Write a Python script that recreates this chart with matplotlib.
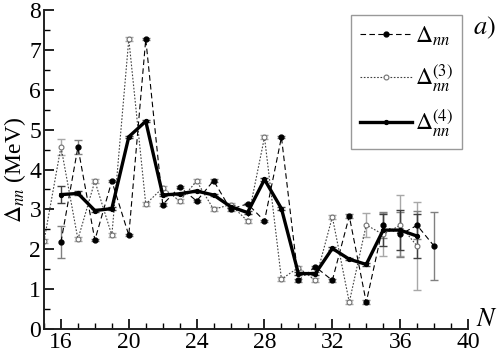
import matplotlib
matplotlib.use("Agg")
import matplotlib.pyplot as plt
from matplotlib.ticker import MultipleLocator

plt.rcParams['font.family'] = ['Liberation Serif', 'DejaVu Serif']
plt.rcParams['mathtext.fontset'] = 'stix'

# Δnn (dashed, filled circles)
N_nn = [16, 17, 18, 19, 20, 21, 22, 23, 24, 25, 26, 27, 28, 29, 30, 31, 32, 33, 34, 35, 36, 37, 38]
d_nn = [2.18, 4.56, 2.23, 3.71, 2.35, 7.27, 3.12, 3.56, 3.21, 3.72, 3.00, 3.14, 2.71, 4.81,
        1.22, 1.56, 1.22, 2.83, 0.67, 2.60, 2.37, 2.60, 2.08]
e_nn = [0.40, 0.18, 0.03, 0.03, 0.03, 0.03, 0.03, 0.03, 0.03, 0.03, 0.03, 0.03, 0.03, 0.03,
        0.03, 0.03, 0.03, 0.05, 0.05, 0.33, 0.57, 0.35, 0.85]

# Δnn(3) (dotted, open circles)
N_3 = [15, 16, 17, 18, 19, 20, 21, 22, 23, 24, 25, 26, 27, 28, 29, 30, 31, 32, 33, 34, 35, 36, 37]
d_3 = [2.20, 4.57, 2.25, 3.71, 2.35, 7.27, 3.13, 3.54, 3.21, 3.71, 3.00, 3.12, 2.71, 4.81,
       1.25, 1.54, 1.22, 2.81, 0.67, 2.61, 2.37, 2.60, 2.08]
e_3 = [0.05, 0.20, 0.05, 0.05, 0.05, 0.05, 0.05, 0.05, 0.05, 0.05, 0.05, 0.05, 0.05, 0.05,
       0.05, 0.05, 0.05, 0.05, 0.05, 0.30, 0.55, 0.76, 1.10]

# Δnn(4) (thick solid)
N_4 = [16, 17, 18, 19, 20, 21, 22, 23, 24, 25, 26, 27, 28, 29, 30, 31, 32, 33, 34, 35, 36, 37]
d_4 = [3.37, 3.40, 2.97, 3.02, 4.82, 5.21, 3.36, 3.39, 3.46, 3.36, 3.07, 2.92, 3.75, 3.02,
       1.39, 1.39, 2.02, 1.75, 1.62, 2.48, 2.48, 2.33]
e_4 = [0.22, 0.05, 0.03, 0.03, 0.03, 0.03, 0.03, 0.03, 0.03, 0.03, 0.03, 0.03, 0.03, 0.03,
       0.03, 0.03, 0.03, 0.03, 0.03, 0.40, 0.50, 0.55]

labels = [r'$\Delta_{nn}$', r'$\Delta_{nn}^{(3)}$', r'$\Delta_{nn}^{(4)}$']

fig = plt.figure(figsize=(5.03, 3.53), dpi=100)
ax = fig.add_axes([44/503, 1-329/353, 424/503, 319/353])

ax.errorbar(N_3, d_3, yerr=e_3, fmt='none', ecolor='#a8a8a8', elinewidth=1.0, capsize=3, zorder=1)
ax.errorbar(N_nn, d_nn, yerr=e_nn, fmt='none', ecolor='#808080', elinewidth=1.0, capsize=3, zorder=1)
ax.errorbar(N_4, d_4, yerr=e_4, fmt='none', ecolor='#404040', elinewidth=1.0, capsize=3, zorder=1)

l1, = ax.plot(N_nn, d_nn, linestyle=(0, (5, 3)), color='black', lw=0.8,
              marker='o', ms=3.5, mfc='black', mec='black', zorder=3, label=labels[0])
l2, = ax.plot(N_3, d_3, linestyle=(0, (1.5, 1.5)), color='#404040', lw=0.8,
              marker='o', ms=3.5, mfc='white', mec='#707070', mew=0.8, zorder=2, label=labels[1])
l3, = ax.plot(N_4, d_4, linestyle='-', color='black', lw=2.4,
              marker='o', ms=2.8, mfc='black', mec='black', zorder=4, label=labels[2])

ax.set_xlim(15, 40)
ax.set_ylim(0, 8)
ax.xaxis.set_minor_locator(MultipleLocator(1))
ax.yaxis.set_major_locator(MultipleLocator(1))
ax.yaxis.set_minor_locator(MultipleLocator(0.5))
ax.set_xticks([16, 20, 24, 28, 32, 36, 40])

for s in ['top', 'right']:
    ax.spines[s].set_visible(False)
for s in ['left', 'bottom']:
    ax.spines[s].set_linewidth(1.4)
    ax.spines[s].set_color('#202020')

ax.tick_params(which='major', direction='in', length=7, width=1.2, labelsize=17, pad=2)
ax.tick_params(which='minor', direction='in', length=4, width=1.0)

ax.set_ylabel(r'$\Delta_{nn}$ (MeV)', fontsize=17, labelpad=1)
fig.text(487/503, 1-320/353, r'$N$', fontsize=19, ha='center', va='center')
fig.text(484/503, 1-28/353, r'$a)$', fontsize=19, ha='center', va='center')

leg = ax.legend(handles=[l1, l2, l3], loc='upper right', bbox_to_anchor=(0.986, 0.984),
                borderaxespad=0, fontsize=17, frameon=True, fancybox=False,
                edgecolor='#808080', handlelength=2.2, labelspacing=0.6,
                handletextpad=0.1, borderpad=0.4)
leg.get_frame().set_linewidth(1.0)

fig.savefig('out.png', dpi=100)
